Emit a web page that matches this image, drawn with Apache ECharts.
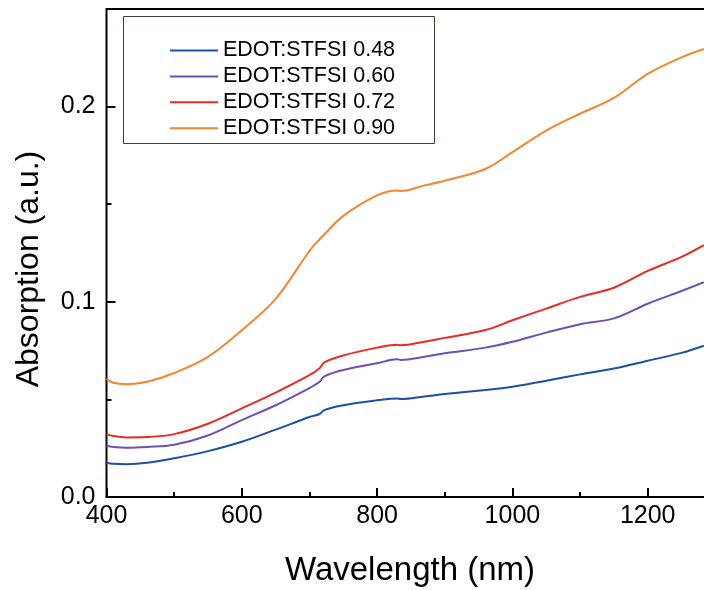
<!DOCTYPE html>
<html>
<head>
<meta charset="utf-8">
<script src="https://cdn.jsdelivr.net/npm/echarts@6/dist/echarts.min.js"></script>
<style>html,body{margin:0;padding:0;background:#fff}#c{width:704px;height:590px}</style>
</head>
<body>
<div id="c"></div>
<script>
const wavelengths = [400, 410, 430, 460, 500, 550, 600, 650, 700, 715, 722, 750, 800, 830, 835, 870, 900, 960, 1000, 1050, 1100, 1150, 1200, 1250, 1283];
const seriesNames = ['EDOT:STFSI 0.48', 'EDOT:STFSI 0.60', 'EDOT:STFSI 0.72', 'EDOT:STFSI 0.90'];
const abs048 = [0.0175, 0.0170, 0.0168, 0.0175, 0.0198, 0.0235, 0.0283, 0.0345, 0.0410, 0.0425, 0.0445, 0.0470, 0.0495, 0.0505, 0.0502, 0.0515, 0.0527, 0.0548, 0.0565, 0.0595, 0.0628, 0.0658, 0.0698, 0.0738, 0.0775];
const abs060 = [0.0262, 0.0256, 0.0252, 0.0256, 0.0268, 0.0315, 0.0394, 0.0470, 0.0558, 0.0590, 0.0618, 0.0650, 0.0685, 0.0705, 0.0702, 0.0718, 0.0736, 0.0765, 0.0795, 0.0842, 0.0885, 0.0915, 0.0990, 0.1055, 0.1100];
const abs072 = [0.0322, 0.0312, 0.0305, 0.0307, 0.0322, 0.0375, 0.0454, 0.0535, 0.0624, 0.0660, 0.0690, 0.0725, 0.0765, 0.0780, 0.0777, 0.0795, 0.0815, 0.0855, 0.0905, 0.0965, 0.1025, 0.1072, 0.1158, 0.1230, 0.1290];
const abs090 = [0.0605, 0.0585, 0.0578, 0.0590, 0.0635, 0.0718, 0.0854, 0.1015, 0.1260, 0.1320, 0.1345, 0.1440, 0.1545, 0.1570, 0.1567, 0.1596, 0.1620, 0.1680, 0.1766, 0.1877, 0.1963, 0.2044, 0.2167, 0.2252, 0.2295];
const colors = ['#1d4fa6', '#6e4fb5', '#ec2a25', '#f5862c'];
const allValues = [abs048, abs060, abs072, abs090];

const font = '"Liberation Sans", Arial, sans-serif';
const chart = echarts.init(document.getElementById('c'), null, {renderer: 'canvas'});
const series = allValues.map((vals, i) => ({
  name: seriesNames[i],
  type: 'line',
  xAxisIndex: 0, yAxisIndex: 0,
  data: wavelengths.map((w, j) => [w, vals[j]]),
  showSymbol: false, symbol: 'none',
  smooth: 0.35,
  lineStyle: {color: colors[i], width: 2},
  itemStyle: {color: colors[i]},
  animation: false,
  z: 3
}));

chart.setOption({
  animation: false,
  backgroundColor: '#fff',
  grid: [
    {left: 106.5, right: -79, top: -88.75, bottom: 93, containLabel: false, outerBoundsMode: 'none'},
    {left: 106.5, right: -79, top: 9, bottom: 93, containLabel: false, outerBoundsMode: 'none', show: true, borderColor: '#000', borderWidth: 2, backgroundColor: 'transparent', z: 1}
  ],
  xAxis: [
    {type: 'value', gridIndex: 0, min: 400, max: 1400, interval: 200,
     axisLine: {show: true, lineStyle: {color: '#000', width: 2}},
     axisTick: {show: true, inside: true, length: 9, lineStyle: {color: '#000', width: 2}},
     minorTick: {show: true, splitNumber: 2, length: 5, lineStyle: {color: '#000', width: 2}},
     axisLabel: {fontSize: 25, color: '#000', fontFamily: font, margin: 7, formatter: v => String(v)},
     splitLine: {show: false}, minorSplitLine: {show: false}},
    {type: 'value', gridIndex: 1, min: 0, max: 1, show: false}
  ],
  yAxis: [
    {type: 'value', gridIndex: 0, min: 0, max: 0.3, interval: 0.1,
     axisLine: {show: false},
     axisTick: {show: true, inside: true, length: 9, lineStyle: {color: '#000', width: 2}},
     minorTick: {show: true, splitNumber: 2, length: 5, lineStyle: {color: '#000', width: 2}},
     axisLabel: {fontSize: 25, color: '#000', fontFamily: font, margin: 11, formatter: v => v.toFixed(1)},
     splitLine: {show: false}, minorSplitLine: {show: false}},
    {type: 'value', gridIndex: 1, min: 0, max: 1, show: false}
  ],
  legend: {
    orient: 'vertical', left: 165, top: 34.5,
    icon: 'rect',
    itemWidth: 48, itemHeight: 2, itemGap: 3.9,
    textStyle: {fontSize: 21.5, color: '#000', fontFamily: font, lineHeight: 22},
    data: seriesNames
  },
  graphic: [
    {type: 'rect', left: 121, top: 14, shape: {width: 311, height: 127},
     style: {fill: 'none', stroke: '#4a3a35', lineWidth: 1}, z: 10},
    {type: 'text', x: 29, y: 269, rotation: Math.PI / 2,
     style: {text: 'Absorption (a.u.)', fontSize: 32, fontFamily: font, fill: '#000', align: 'center', verticalAlign: 'middle'}},
    {type: 'text', x: 410, y: 571,
     style: {text: 'Wavelength (nm)', fontSize: 33, fontFamily: font, fill: '#000', align: 'center', verticalAlign: 'middle'}}
  ],
  series: series
});
</script>
</body>
</html>
